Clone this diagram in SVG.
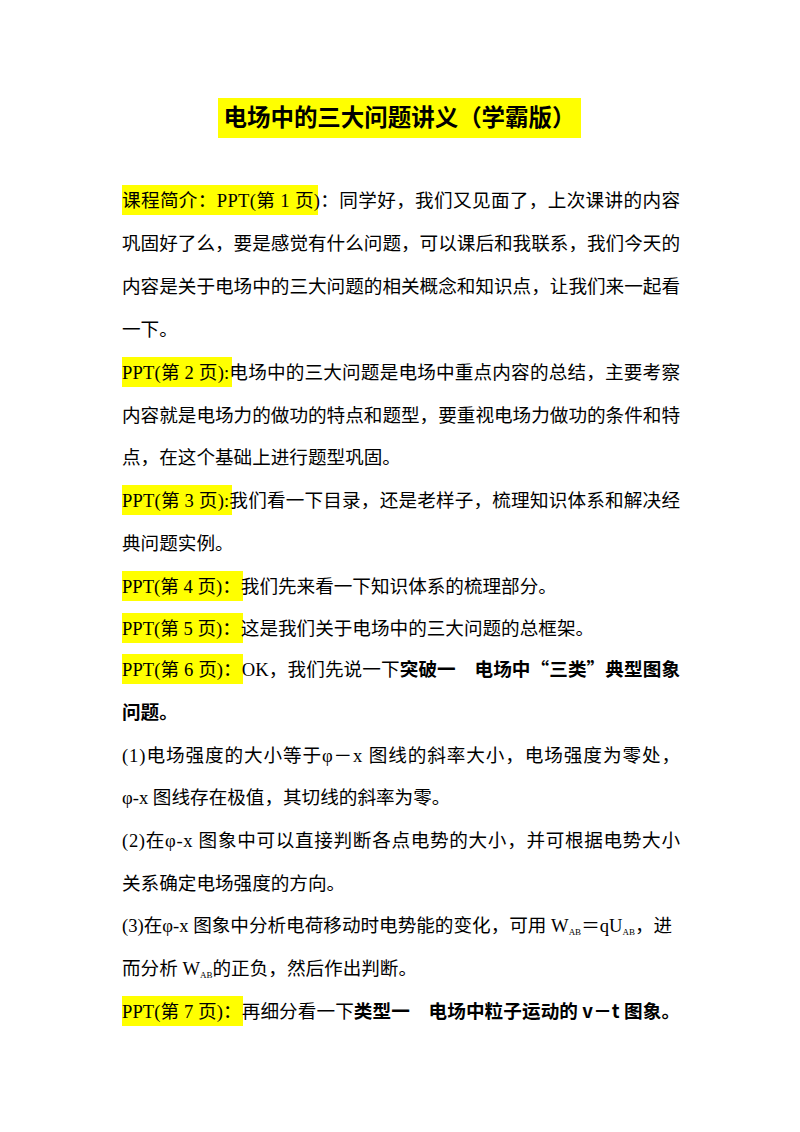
<svg xmlns="http://www.w3.org/2000/svg" width="800" height="1132" viewBox="0 0 800 1132">
<style>
text{font-family:"Liberation Serif","Noto Sans CJK SC",serif;font-size:18.6px;fill:#000}
.t{font-family:"Noto Sans CJK SC",sans-serif;font-weight:bold;font-size:23.5px}
.b{font-family:"Noto Sans CJK SC",sans-serif;font-weight:bold}
.hl{fill:#ffff00}
.s{font-size:9px}
</style>
<rect width="800" height="1132" fill="#fff"/>
<rect class="hl" x="218" y="98" width="363" height="40"/>
<text class="t" x="399.5" y="126" text-anchor="middle" textLength="352" lengthAdjust="spacing">电场中的三大问题讲义（学霸版）</text>
<rect class="hl" x="122" y="185" width="196" height="30"/>
<rect class="hl" x="122" y="357" width="110" height="30"/>
<rect class="hl" x="122" y="485" width="110" height="30"/>
<rect class="hl" x="122" y="571" width="121" height="30"/>
<rect class="hl" x="122" y="613" width="121" height="30"/>
<rect class="hl" x="122" y="654" width="121" height="30"/>
<rect class="hl" x="122" y="996" width="121" height="30"/>
<text x="122" y="207" textLength="558" lengthAdjust="spacing">课程简介：PPT(第 1 页)：同学好，我们又见面了，上次课讲的内容</text>
<text x="122" y="250" textLength="558" lengthAdjust="spacing">巩固好了么，要是感觉有什么问题，可以课后和我联系，我们今天的</text>
<text x="122" y="293" textLength="558" lengthAdjust="spacing">内容是关于电场中的三大问题的相关概念和知识点，让我们来一起看</text>
<text x="122" y="336">一下。</text>
<text x="122" y="379" textLength="558" lengthAdjust="spacing">PPT(第 2 页):电场中的三大问题是电场中重点内容的总结，主要考察</text>
<text x="122" y="422" textLength="558" lengthAdjust="spacing">内容就是电场力的做功的特点和题型，要重视电场力做功的条件和特</text>
<text x="122" y="464">点，在这个基础上进行题型巩固。</text>
<text x="122" y="507" textLength="558" lengthAdjust="spacing">PPT(第 3 页):我们看一下目录，还是老样子，梳理知识体系和解决经</text>
<text x="122" y="550">典问题实例。</text>
<text x="122" y="593">PPT(第 4 页)：我们先来看一下知识体系的梳理部分。</text>
<text x="122" y="635">PPT(第 5 页)：这是我们关于电场中的三大问题的总框架。</text>
<text x="122" y="676" textLength="558" lengthAdjust="spacing">PPT(第 6 页)：OK，我们先说一下<tspan class="b">突破一　电场中“三类”典型图象</tspan></text>
<text x="122" y="719" class="b">问题。</text>
<text x="122" y="762" textLength="558" lengthAdjust="spacing">(1)电场强度的大小等于φ－x 图线的斜率大小，电场强度为零处，</text>
<text x="122" y="804">φ-x 图线存在极值，其切线的斜率为零。</text>
<text x="122" y="847" textLength="558" lengthAdjust="spacing">(2)在φ-x 图象中可以直接判断各点电势的大小，并可根据电势大小</text>
<text x="122" y="890">关系确定电场强度的方向。</text>
<text x="122" y="932">(3)在φ-x 图象中分析电荷移动时电势能的变化，可用 W<tspan class="s" dy="3">AB</tspan><tspan dy="-3">＝qU</tspan><tspan class="s" dy="3">AB</tspan><tspan dy="-3">，进</tspan></text>
<text x="122" y="975">而分析 W<tspan class="s" dy="3">AB</tspan><tspan dy="-3">的正负，然后作出判断。</tspan></text>
<text x="122" y="1018" textLength="558" lengthAdjust="spacing">PPT(第 7 页)：再细分看一下<tspan class="b">类型一　电场中粒子运动的 v－t 图象。</tspan></text>
</svg>
